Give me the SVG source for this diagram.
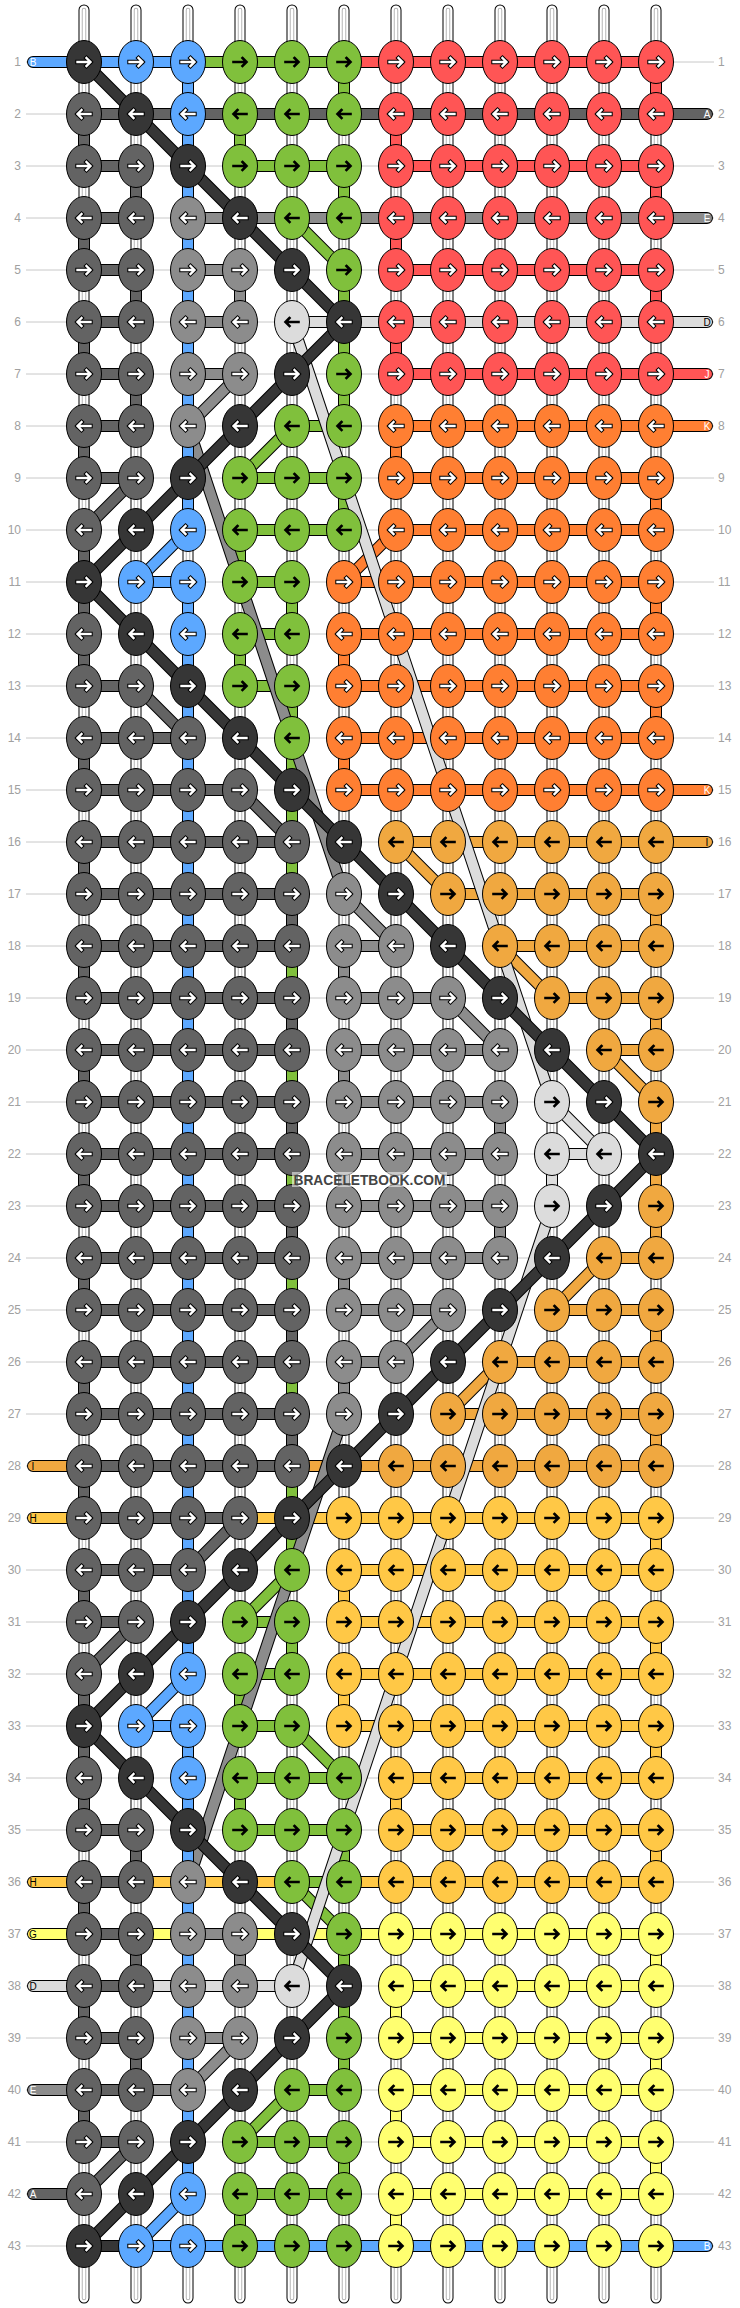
<svg xmlns="http://www.w3.org/2000/svg" xmlns:xlink="http://www.w3.org/1999/xlink" width="740" height="2308" viewBox="0 0 740 2308">
<style>
text{font-family:"Liberation Sans",Arial,sans-serif}
.n{font-size:12px;fill:#a0a0a0}
.nl{text-anchor:end}
.t{font-size:10px;text-anchor:middle}
.tw{fill:#fff}.tb{fill:#000}
.o{stroke:#000;stroke-width:12}
.i{stroke-width:10}
.K{fill:#363636}.A{fill:#636363}.E{fill:#8c8c8c}.D{fill:#dcdcdc}.B{fill:#5ca8ff}.F{fill:#80c03c}.J{fill:#ff5555}.O{fill:#ff7f32}.I{fill:#f0a840}.H{fill:#ffc846}.G{fill:#ffff70}
</style>
<defs>
<path id="a" d="M-6.5,0H6M2.5,-4L6.5,0L2.5,4" fill="none" stroke-linecap="square"/>
<g id="R"><ellipse rx="17.5" ry="21.5" stroke="#000"/><use href="#a" stroke="#000" stroke-width="4.4"/><use href="#a" stroke="#fff" stroke-width="2.4"/></g>
<g id="L"><ellipse rx="17.5" ry="21.5" stroke="#000"/><g transform="scale(-1,1)"><use href="#a" stroke="#000" stroke-width="4.4"/><use href="#a" stroke="#fff" stroke-width="2.4"/></g></g>
<g id="r"><ellipse rx="17.5" ry="21.5" stroke="#000"/><use href="#a" stroke="#000" stroke-width="2.6"/></g>
<g id="l"><ellipse rx="17.5" ry="21.5" stroke="#000"/><use href="#a" stroke="#000" stroke-width="2.6" transform="scale(-1,1)"/></g>
<path id="pW" d="M84,10V2298M136,10V2298M188,10V2298M240,10V2298M292,10V2298M344,10V2298M396,10V2298M448,10V2298M500,10V2298M552,10V2298M604,10V2298M656,10V2298"/>
<path id="pJ" d="M344,62H656V114H396V166H656V218H396V270H656V322H396V374H707"/>
<path id="pO" d="M707,426H396V478H656V530H396L344,582H656V634H344V686H656V738H344V790H707"/>
<path id="pI" d="M707,842H396L448,894H656V946H500L552,998H656V1050H604L656,1102V1258H604L552,1310H656V1362H500L448,1414H656V1466H33"/>
<path id="pH" d="M33,1518H656V1570H344V1622H656V1674H344V1726H656V1778H396V1830H656V1882H33"/>
<path id="pG" d="M33,1934H656V1986H396V2038H656V2090H396V2142H656V2194H396V2246H656"/>
<path id="pF" d="M188,62H344V114H240V166H344V218H292L344,270V426H292L240,478H344V530H240V582H292V634H240V686H292V1570L240,1622H292V1674H240V1726H292L344,1778H240V1830H344V1882H292L344,1934V2090H292L240,2142H344V2194H240V2246H344"/>
<path id="pE" d="M707,218H188V270H240V322H188V374H240L188,426L344,894L396,946H344V998H448L500,1050H344V1102H500V1154H344V1206H500V1258H344V1310H448L396,1362H344V1414L188,1882V1934H240V1986H188V2038H240L188,2090H33"/>
<path id="pD" d="M707,322H292L552,1102L604,1154H552V1206L292,1986H33"/>
<path id="pB" d="M33,62H188V530L136,582H188V1674L136,1726H188V2194L136,2246H707"/>
<path id="pA" d="M707,114H84V166H136V218H84V270H136V322H84V374H136V426H84V478H136L84,530V686H136L188,738H84V790H240L292,842H84V894H292V946H84V998H292V1050H84V1102H292V1154H84V1206H292V1258H84V1310H292V1362H84V1414H292V1466H84V1518H240L188,1570H84V1622H136L84,1674V1830H136V1882H84V1934H136V1986H84V2038H136V2090H84V2142H136L84,2194H33"/>
<path id="pK" d="M84,62L344,322L84,582L656,1154L84,1726L344,1986L84,2246H136"/>
</defs>
<rect width="740" height="2308" fill="#fff"/>
<g id="rowlines" stroke="#c8c8c8" stroke-width="1">
<path d="M26,62H714M26,114H714M26,166H714M26,218H714M26,270H714M26,322H714M26,374H714M26,426H714M26,478H714M26,530H714M26,582H714M26,634H714M26,686H714M26,738H714M26,790H714M26,842H714M26,894H714M26,946H714M26,998H714M26,1050H714M26,1102H714M26,1154H714M26,1206H714M26,1258H714M26,1310H714M26,1362H714M26,1414H714M26,1466H714M26,1518H714M26,1570H714M26,1622H714M26,1674H714M26,1726H714M26,1778H714M26,1830H714M26,1882H714M26,1934H714M26,1986H714M26,2038H714M26,2090H714M26,2142H714M26,2194H714M26,2246H714"/>
</g>
<g id="rownumbers" class="n">
<g class="nl"><text x="21" y="66">1</text><text x="21" y="118">2</text><text x="21" y="170">3</text><text x="21" y="222">4</text><text x="21" y="274">5</text><text x="21" y="326">6</text><text x="21" y="378">7</text><text x="21" y="430">8</text><text x="21" y="482">9</text><text x="21" y="534">10</text><text x="21" y="586">11</text><text x="21" y="638">12</text><text x="21" y="690">13</text><text x="21" y="742">14</text><text x="21" y="794">15</text><text x="21" y="846">16</text><text x="21" y="898">17</text><text x="21" y="950">18</text><text x="21" y="1002">19</text><text x="21" y="1054">20</text><text x="21" y="1106">21</text><text x="21" y="1158">22</text><text x="21" y="1210">23</text><text x="21" y="1262">24</text><text x="21" y="1314">25</text><text x="21" y="1366">26</text><text x="21" y="1418">27</text><text x="21" y="1470">28</text><text x="21" y="1522">29</text><text x="21" y="1574">30</text><text x="21" y="1626">31</text><text x="21" y="1678">32</text><text x="21" y="1730">33</text><text x="21" y="1782">34</text><text x="21" y="1834">35</text><text x="21" y="1886">36</text><text x="21" y="1938">37</text><text x="21" y="1990">38</text><text x="21" y="2042">39</text><text x="21" y="2094">40</text><text x="21" y="2146">41</text><text x="21" y="2198">42</text><text x="21" y="2250">43</text></g>
<g><text x="718" y="66">1</text><text x="718" y="118">2</text><text x="718" y="170">3</text><text x="718" y="222">4</text><text x="718" y="274">5</text><text x="718" y="326">6</text><text x="718" y="378">7</text><text x="718" y="430">8</text><text x="718" y="482">9</text><text x="718" y="534">10</text><text x="718" y="586">11</text><text x="718" y="638">12</text><text x="718" y="690">13</text><text x="718" y="742">14</text><text x="718" y="794">15</text><text x="718" y="846">16</text><text x="718" y="898">17</text><text x="718" y="950">18</text><text x="718" y="1002">19</text><text x="718" y="1054">20</text><text x="718" y="1106">21</text><text x="718" y="1158">22</text><text x="718" y="1210">23</text><text x="718" y="1262">24</text><text x="718" y="1314">25</text><text x="718" y="1366">26</text><text x="718" y="1418">27</text><text x="718" y="1470">28</text><text x="718" y="1522">29</text><text x="718" y="1574">30</text><text x="718" y="1626">31</text><text x="718" y="1678">32</text><text x="718" y="1730">33</text><text x="718" y="1782">34</text><text x="718" y="1834">35</text><text x="718" y="1886">36</text><text x="718" y="1938">37</text><text x="718" y="1990">38</text><text x="718" y="2042">39</text><text x="718" y="2094">40</text><text x="718" y="2146">41</text><text x="718" y="2198">42</text><text x="718" y="2250">43</text></g>
</g>
<g id="connectors" fill="none" stroke-linecap="round" stroke-linejoin="round">
<g id="warps"><use href="#pW" stroke="#000" stroke-width="11"/><use href="#pW" stroke="#fff" stroke-width="9"/><use href="#pW" stroke="#b4b4b4" stroke-width="4.5"/><use href="#pW" stroke="#fff" stroke-width="2.5"/></g>
<g id="sJ"><use href="#pJ" class="o"/><use href="#pJ" class="i" stroke="#ff5555"/></g>
<g id="sO"><use href="#pO" class="o"/><use href="#pO" class="i" stroke="#ff7f32"/></g>
<g id="sI"><use href="#pI" class="o"/><use href="#pI" class="i" stroke="#f0a840"/></g>
<g id="sH"><use href="#pH" class="o"/><use href="#pH" class="i" stroke="#ffc846"/></g>
<g id="sG"><use href="#pG" class="o"/><use href="#pG" class="i" stroke="#ffff70"/></g>
<g id="sF"><use href="#pF" class="o"/><use href="#pF" class="i" stroke="#80c03c"/></g>
<g id="sE"><use href="#pE" class="o"/><use href="#pE" class="i" stroke="#8c8c8c"/></g>
<g id="sD"><use href="#pD" class="o"/><use href="#pD" class="i" stroke="#dcdcdc"/></g>
<g id="sB"><use href="#pB" class="o"/><use href="#pB" class="i" stroke="#5ca8ff"/></g>
<g id="sA"><use href="#pA" class="o"/><use href="#pA" class="i" stroke="#636363"/></g>
<g id="sK"><use href="#pK" class="o"/><use href="#pK" class="i" stroke="#363636"/></g>
</g>
<g id="stringlabels" class="t">
<text class="tw" x="33" y="65.6">B</text><text class="tb" x="33" y="1469.6">I</text><text class="tb" x="33" y="1521.6">H</text><text class="tb" x="33" y="1885.6">H</text><text class="tb" x="33" y="1937.6">G</text><text class="tb" x="33" y="1989.6">D</text><text class="tw" x="33" y="2093.6">E</text><text class="tw" x="33" y="2197.6">A</text>
<text class="tw" x="707" y="117.6">A</text><text class="tw" x="707" y="221.6">E</text><text class="tb" x="707" y="325.6">D</text><text class="tw" x="707" y="377.6">J</text><text class="tw" x="707" y="429.6">K</text><text class="tw" x="707" y="793.6">K</text><text class="tb" x="707" y="845.6">I</text><text class="tw" x="707" y="2249.6">B</text>
</g>
<g id="knots">
<g id="row1" transform="translate(0,62)"><use id="k1-1" href="#R" class="K" x="84"/><use id="k1-2" href="#R" class="B" x="136"/><use id="k1-3" href="#R" class="B" x="188"/><use id="k1-4" href="#r" class="F" x="240"/><use id="k1-5" href="#r" class="F" x="292"/><use id="k1-6" href="#r" class="F" x="344"/><use id="k1-7" href="#R" class="J" x="396"/><use id="k1-8" href="#R" class="J" x="448"/><use id="k1-9" href="#R" class="J" x="500"/><use id="k1-10" href="#R" class="J" x="552"/><use id="k1-11" href="#R" class="J" x="604"/><use id="k1-12" href="#R" class="J" x="656"/></g>
<g id="row2" transform="translate(0,114)"><use id="k2-1" href="#L" class="A" x="84"/><use id="k2-2" href="#L" class="K" x="136"/><use id="k2-3" href="#L" class="B" x="188"/><use id="k2-4" href="#l" class="F" x="240"/><use id="k2-5" href="#l" class="F" x="292"/><use id="k2-6" href="#l" class="F" x="344"/><use id="k2-7" href="#L" class="J" x="396"/><use id="k2-8" href="#L" class="J" x="448"/><use id="k2-9" href="#L" class="J" x="500"/><use id="k2-10" href="#L" class="J" x="552"/><use id="k2-11" href="#L" class="J" x="604"/><use id="k2-12" href="#L" class="J" x="656"/></g>
<g id="row3" transform="translate(0,166)"><use id="k3-1" href="#R" class="A" x="84"/><use id="k3-2" href="#R" class="A" x="136"/><use id="k3-3" href="#R" class="K" x="188"/><use id="k3-4" href="#r" class="F" x="240"/><use id="k3-5" href="#r" class="F" x="292"/><use id="k3-6" href="#r" class="F" x="344"/><use id="k3-7" href="#R" class="J" x="396"/><use id="k3-8" href="#R" class="J" x="448"/><use id="k3-9" href="#R" class="J" x="500"/><use id="k3-10" href="#R" class="J" x="552"/><use id="k3-11" href="#R" class="J" x="604"/><use id="k3-12" href="#R" class="J" x="656"/></g>
<g id="row4" transform="translate(0,218)"><use id="k4-1" href="#L" class="A" x="84"/><use id="k4-2" href="#L" class="A" x="136"/><use id="k4-3" href="#L" class="E" x="188"/><use id="k4-4" href="#L" class="K" x="240"/><use id="k4-5" href="#l" class="F" x="292"/><use id="k4-6" href="#l" class="F" x="344"/><use id="k4-7" href="#L" class="J" x="396"/><use id="k4-8" href="#L" class="J" x="448"/><use id="k4-9" href="#L" class="J" x="500"/><use id="k4-10" href="#L" class="J" x="552"/><use id="k4-11" href="#L" class="J" x="604"/><use id="k4-12" href="#L" class="J" x="656"/></g>
<g id="row5" transform="translate(0,270)"><use id="k5-1" href="#R" class="A" x="84"/><use id="k5-2" href="#R" class="A" x="136"/><use id="k5-3" href="#R" class="E" x="188"/><use id="k5-4" href="#R" class="E" x="240"/><use id="k5-5" href="#R" class="K" x="292"/><use id="k5-6" href="#r" class="F" x="344"/><use id="k5-7" href="#R" class="J" x="396"/><use id="k5-8" href="#R" class="J" x="448"/><use id="k5-9" href="#R" class="J" x="500"/><use id="k5-10" href="#R" class="J" x="552"/><use id="k5-11" href="#R" class="J" x="604"/><use id="k5-12" href="#R" class="J" x="656"/></g>
<g id="row6" transform="translate(0,322)"><use id="k6-1" href="#L" class="A" x="84"/><use id="k6-2" href="#L" class="A" x="136"/><use id="k6-3" href="#L" class="E" x="188"/><use id="k6-4" href="#L" class="E" x="240"/><use id="k6-5" href="#l" class="D" x="292"/><use id="k6-6" href="#L" class="K" x="344"/><use id="k6-7" href="#L" class="J" x="396"/><use id="k6-8" href="#L" class="J" x="448"/><use id="k6-9" href="#L" class="J" x="500"/><use id="k6-10" href="#L" class="J" x="552"/><use id="k6-11" href="#L" class="J" x="604"/><use id="k6-12" href="#L" class="J" x="656"/></g>
<g id="row7" transform="translate(0,374)"><use id="k7-1" href="#R" class="A" x="84"/><use id="k7-2" href="#R" class="A" x="136"/><use id="k7-3" href="#R" class="E" x="188"/><use id="k7-4" href="#R" class="E" x="240"/><use id="k7-5" href="#R" class="K" x="292"/><use id="k7-6" href="#r" class="F" x="344"/><use id="k7-7" href="#R" class="J" x="396"/><use id="k7-8" href="#R" class="J" x="448"/><use id="k7-9" href="#R" class="J" x="500"/><use id="k7-10" href="#R" class="J" x="552"/><use id="k7-11" href="#R" class="J" x="604"/><use id="k7-12" href="#R" class="J" x="656"/></g>
<g id="row8" transform="translate(0,426)"><use id="k8-1" href="#L" class="A" x="84"/><use id="k8-2" href="#L" class="A" x="136"/><use id="k8-3" href="#L" class="E" x="188"/><use id="k8-4" href="#L" class="K" x="240"/><use id="k8-5" href="#l" class="F" x="292"/><use id="k8-6" href="#l" class="F" x="344"/><use id="k8-7" href="#L" class="O" x="396"/><use id="k8-8" href="#L" class="O" x="448"/><use id="k8-9" href="#L" class="O" x="500"/><use id="k8-10" href="#L" class="O" x="552"/><use id="k8-11" href="#L" class="O" x="604"/><use id="k8-12" href="#L" class="O" x="656"/></g>
<g id="row9" transform="translate(0,478)"><use id="k9-1" href="#R" class="A" x="84"/><use id="k9-2" href="#R" class="A" x="136"/><use id="k9-3" href="#R" class="K" x="188"/><use id="k9-4" href="#r" class="F" x="240"/><use id="k9-5" href="#r" class="F" x="292"/><use id="k9-6" href="#r" class="F" x="344"/><use id="k9-7" href="#R" class="O" x="396"/><use id="k9-8" href="#R" class="O" x="448"/><use id="k9-9" href="#R" class="O" x="500"/><use id="k9-10" href="#R" class="O" x="552"/><use id="k9-11" href="#R" class="O" x="604"/><use id="k9-12" href="#R" class="O" x="656"/></g>
<g id="row10" transform="translate(0,530)"><use id="k10-1" href="#L" class="A" x="84"/><use id="k10-2" href="#L" class="K" x="136"/><use id="k10-3" href="#L" class="B" x="188"/><use id="k10-4" href="#l" class="F" x="240"/><use id="k10-5" href="#l" class="F" x="292"/><use id="k10-6" href="#l" class="F" x="344"/><use id="k10-7" href="#L" class="O" x="396"/><use id="k10-8" href="#L" class="O" x="448"/><use id="k10-9" href="#L" class="O" x="500"/><use id="k10-10" href="#L" class="O" x="552"/><use id="k10-11" href="#L" class="O" x="604"/><use id="k10-12" href="#L" class="O" x="656"/></g>
<g id="row11" transform="translate(0,582)"><use id="k11-1" href="#R" class="K" x="84"/><use id="k11-2" href="#R" class="B" x="136"/><use id="k11-3" href="#R" class="B" x="188"/><use id="k11-4" href="#r" class="F" x="240"/><use id="k11-5" href="#r" class="F" x="292"/><use id="k11-6" href="#R" class="O" x="344"/><use id="k11-7" href="#R" class="O" x="396"/><use id="k11-8" href="#R" class="O" x="448"/><use id="k11-9" href="#R" class="O" x="500"/><use id="k11-10" href="#R" class="O" x="552"/><use id="k11-11" href="#R" class="O" x="604"/><use id="k11-12" href="#R" class="O" x="656"/></g>
<g id="row12" transform="translate(0,634)"><use id="k12-1" href="#L" class="A" x="84"/><use id="k12-2" href="#L" class="K" x="136"/><use id="k12-3" href="#L" class="B" x="188"/><use id="k12-4" href="#l" class="F" x="240"/><use id="k12-5" href="#l" class="F" x="292"/><use id="k12-6" href="#L" class="O" x="344"/><use id="k12-7" href="#L" class="O" x="396"/><use id="k12-8" href="#L" class="O" x="448"/><use id="k12-9" href="#L" class="O" x="500"/><use id="k12-10" href="#L" class="O" x="552"/><use id="k12-11" href="#L" class="O" x="604"/><use id="k12-12" href="#L" class="O" x="656"/></g>
<g id="row13" transform="translate(0,686)"><use id="k13-1" href="#R" class="A" x="84"/><use id="k13-2" href="#R" class="A" x="136"/><use id="k13-3" href="#R" class="K" x="188"/><use id="k13-4" href="#r" class="F" x="240"/><use id="k13-5" href="#r" class="F" x="292"/><use id="k13-6" href="#R" class="O" x="344"/><use id="k13-7" href="#R" class="O" x="396"/><use id="k13-8" href="#R" class="O" x="448"/><use id="k13-9" href="#R" class="O" x="500"/><use id="k13-10" href="#R" class="O" x="552"/><use id="k13-11" href="#R" class="O" x="604"/><use id="k13-12" href="#R" class="O" x="656"/></g>
<g id="row14" transform="translate(0,738)"><use id="k14-1" href="#L" class="A" x="84"/><use id="k14-2" href="#L" class="A" x="136"/><use id="k14-3" href="#L" class="A" x="188"/><use id="k14-4" href="#L" class="K" x="240"/><use id="k14-5" href="#l" class="F" x="292"/><use id="k14-6" href="#L" class="O" x="344"/><use id="k14-7" href="#L" class="O" x="396"/><use id="k14-8" href="#L" class="O" x="448"/><use id="k14-9" href="#L" class="O" x="500"/><use id="k14-10" href="#L" class="O" x="552"/><use id="k14-11" href="#L" class="O" x="604"/><use id="k14-12" href="#L" class="O" x="656"/></g>
<g id="row15" transform="translate(0,790)"><use id="k15-1" href="#R" class="A" x="84"/><use id="k15-2" href="#R" class="A" x="136"/><use id="k15-3" href="#R" class="A" x="188"/><use id="k15-4" href="#R" class="A" x="240"/><use id="k15-5" href="#R" class="K" x="292"/><use id="k15-6" href="#R" class="O" x="344"/><use id="k15-7" href="#R" class="O" x="396"/><use id="k15-8" href="#R" class="O" x="448"/><use id="k15-9" href="#R" class="O" x="500"/><use id="k15-10" href="#R" class="O" x="552"/><use id="k15-11" href="#R" class="O" x="604"/><use id="k15-12" href="#R" class="O" x="656"/></g>
<g id="row16" transform="translate(0,842)"><use id="k16-1" href="#L" class="A" x="84"/><use id="k16-2" href="#L" class="A" x="136"/><use id="k16-3" href="#L" class="A" x="188"/><use id="k16-4" href="#L" class="A" x="240"/><use id="k16-5" href="#L" class="A" x="292"/><use id="k16-6" href="#L" class="K" x="344"/><use id="k16-7" href="#l" class="I" x="396"/><use id="k16-8" href="#l" class="I" x="448"/><use id="k16-9" href="#l" class="I" x="500"/><use id="k16-10" href="#l" class="I" x="552"/><use id="k16-11" href="#l" class="I" x="604"/><use id="k16-12" href="#l" class="I" x="656"/></g>
<g id="row17" transform="translate(0,894)"><use id="k17-1" href="#R" class="A" x="84"/><use id="k17-2" href="#R" class="A" x="136"/><use id="k17-3" href="#R" class="A" x="188"/><use id="k17-4" href="#R" class="A" x="240"/><use id="k17-5" href="#R" class="A" x="292"/><use id="k17-6" href="#R" class="E" x="344"/><use id="k17-7" href="#R" class="K" x="396"/><use id="k17-8" href="#r" class="I" x="448"/><use id="k17-9" href="#r" class="I" x="500"/><use id="k17-10" href="#r" class="I" x="552"/><use id="k17-11" href="#r" class="I" x="604"/><use id="k17-12" href="#r" class="I" x="656"/></g>
<g id="row18" transform="translate(0,946)"><use id="k18-1" href="#L" class="A" x="84"/><use id="k18-2" href="#L" class="A" x="136"/><use id="k18-3" href="#L" class="A" x="188"/><use id="k18-4" href="#L" class="A" x="240"/><use id="k18-5" href="#L" class="A" x="292"/><use id="k18-6" href="#L" class="E" x="344"/><use id="k18-7" href="#L" class="E" x="396"/><use id="k18-8" href="#L" class="K" x="448"/><use id="k18-9" href="#l" class="I" x="500"/><use id="k18-10" href="#l" class="I" x="552"/><use id="k18-11" href="#l" class="I" x="604"/><use id="k18-12" href="#l" class="I" x="656"/></g>
<g id="row19" transform="translate(0,998)"><use id="k19-1" href="#R" class="A" x="84"/><use id="k19-2" href="#R" class="A" x="136"/><use id="k19-3" href="#R" class="A" x="188"/><use id="k19-4" href="#R" class="A" x="240"/><use id="k19-5" href="#R" class="A" x="292"/><use id="k19-6" href="#R" class="E" x="344"/><use id="k19-7" href="#R" class="E" x="396"/><use id="k19-8" href="#R" class="E" x="448"/><use id="k19-9" href="#R" class="K" x="500"/><use id="k19-10" href="#r" class="I" x="552"/><use id="k19-11" href="#r" class="I" x="604"/><use id="k19-12" href="#r" class="I" x="656"/></g>
<g id="row20" transform="translate(0,1050)"><use id="k20-1" href="#L" class="A" x="84"/><use id="k20-2" href="#L" class="A" x="136"/><use id="k20-3" href="#L" class="A" x="188"/><use id="k20-4" href="#L" class="A" x="240"/><use id="k20-5" href="#L" class="A" x="292"/><use id="k20-6" href="#L" class="E" x="344"/><use id="k20-7" href="#L" class="E" x="396"/><use id="k20-8" href="#L" class="E" x="448"/><use id="k20-9" href="#L" class="E" x="500"/><use id="k20-10" href="#L" class="K" x="552"/><use id="k20-11" href="#l" class="I" x="604"/><use id="k20-12" href="#l" class="I" x="656"/></g>
<g id="row21" transform="translate(0,1102)"><use id="k21-1" href="#R" class="A" x="84"/><use id="k21-2" href="#R" class="A" x="136"/><use id="k21-3" href="#R" class="A" x="188"/><use id="k21-4" href="#R" class="A" x="240"/><use id="k21-5" href="#R" class="A" x="292"/><use id="k21-6" href="#R" class="E" x="344"/><use id="k21-7" href="#R" class="E" x="396"/><use id="k21-8" href="#R" class="E" x="448"/><use id="k21-9" href="#R" class="E" x="500"/><use id="k21-10" href="#r" class="D" x="552"/><use id="k21-11" href="#R" class="K" x="604"/><use id="k21-12" href="#r" class="I" x="656"/></g>
<g id="row22" transform="translate(0,1154)"><use id="k22-1" href="#L" class="A" x="84"/><use id="k22-2" href="#L" class="A" x="136"/><use id="k22-3" href="#L" class="A" x="188"/><use id="k22-4" href="#L" class="A" x="240"/><use id="k22-5" href="#L" class="A" x="292"/><use id="k22-6" href="#L" class="E" x="344"/><use id="k22-7" href="#L" class="E" x="396"/><use id="k22-8" href="#L" class="E" x="448"/><use id="k22-9" href="#L" class="E" x="500"/><use id="k22-10" href="#l" class="D" x="552"/><use id="k22-11" href="#l" class="D" x="604"/><use id="k22-12" href="#L" class="K" x="656"/></g>
<g id="row23" transform="translate(0,1206)"><use id="k23-1" href="#R" class="A" x="84"/><use id="k23-2" href="#R" class="A" x="136"/><use id="k23-3" href="#R" class="A" x="188"/><use id="k23-4" href="#R" class="A" x="240"/><use id="k23-5" href="#R" class="A" x="292"/><use id="k23-6" href="#R" class="E" x="344"/><use id="k23-7" href="#R" class="E" x="396"/><use id="k23-8" href="#R" class="E" x="448"/><use id="k23-9" href="#R" class="E" x="500"/><use id="k23-10" href="#r" class="D" x="552"/><use id="k23-11" href="#R" class="K" x="604"/><use id="k23-12" href="#r" class="I" x="656"/></g>
<g id="row24" transform="translate(0,1258)"><use id="k24-1" href="#L" class="A" x="84"/><use id="k24-2" href="#L" class="A" x="136"/><use id="k24-3" href="#L" class="A" x="188"/><use id="k24-4" href="#L" class="A" x="240"/><use id="k24-5" href="#L" class="A" x="292"/><use id="k24-6" href="#L" class="E" x="344"/><use id="k24-7" href="#L" class="E" x="396"/><use id="k24-8" href="#L" class="E" x="448"/><use id="k24-9" href="#L" class="E" x="500"/><use id="k24-10" href="#L" class="K" x="552"/><use id="k24-11" href="#l" class="I" x="604"/><use id="k24-12" href="#l" class="I" x="656"/></g>
<g id="row25" transform="translate(0,1310)"><use id="k25-1" href="#R" class="A" x="84"/><use id="k25-2" href="#R" class="A" x="136"/><use id="k25-3" href="#R" class="A" x="188"/><use id="k25-4" href="#R" class="A" x="240"/><use id="k25-5" href="#R" class="A" x="292"/><use id="k25-6" href="#R" class="E" x="344"/><use id="k25-7" href="#R" class="E" x="396"/><use id="k25-8" href="#R" class="E" x="448"/><use id="k25-9" href="#R" class="K" x="500"/><use id="k25-10" href="#r" class="I" x="552"/><use id="k25-11" href="#r" class="I" x="604"/><use id="k25-12" href="#r" class="I" x="656"/></g>
<g id="row26" transform="translate(0,1362)"><use id="k26-1" href="#L" class="A" x="84"/><use id="k26-2" href="#L" class="A" x="136"/><use id="k26-3" href="#L" class="A" x="188"/><use id="k26-4" href="#L" class="A" x="240"/><use id="k26-5" href="#L" class="A" x="292"/><use id="k26-6" href="#L" class="E" x="344"/><use id="k26-7" href="#L" class="E" x="396"/><use id="k26-8" href="#L" class="K" x="448"/><use id="k26-9" href="#l" class="I" x="500"/><use id="k26-10" href="#l" class="I" x="552"/><use id="k26-11" href="#l" class="I" x="604"/><use id="k26-12" href="#l" class="I" x="656"/></g>
<g id="row27" transform="translate(0,1414)"><use id="k27-1" href="#R" class="A" x="84"/><use id="k27-2" href="#R" class="A" x="136"/><use id="k27-3" href="#R" class="A" x="188"/><use id="k27-4" href="#R" class="A" x="240"/><use id="k27-5" href="#R" class="A" x="292"/><use id="k27-6" href="#R" class="E" x="344"/><use id="k27-7" href="#R" class="K" x="396"/><use id="k27-8" href="#r" class="I" x="448"/><use id="k27-9" href="#r" class="I" x="500"/><use id="k27-10" href="#r" class="I" x="552"/><use id="k27-11" href="#r" class="I" x="604"/><use id="k27-12" href="#r" class="I" x="656"/></g>
<g id="row28" transform="translate(0,1466)"><use id="k28-1" href="#L" class="A" x="84"/><use id="k28-2" href="#L" class="A" x="136"/><use id="k28-3" href="#L" class="A" x="188"/><use id="k28-4" href="#L" class="A" x="240"/><use id="k28-5" href="#L" class="A" x="292"/><use id="k28-6" href="#L" class="K" x="344"/><use id="k28-7" href="#l" class="I" x="396"/><use id="k28-8" href="#l" class="I" x="448"/><use id="k28-9" href="#l" class="I" x="500"/><use id="k28-10" href="#l" class="I" x="552"/><use id="k28-11" href="#l" class="I" x="604"/><use id="k28-12" href="#l" class="I" x="656"/></g>
<g id="row29" transform="translate(0,1518)"><use id="k29-1" href="#R" class="A" x="84"/><use id="k29-2" href="#R" class="A" x="136"/><use id="k29-3" href="#R" class="A" x="188"/><use id="k29-4" href="#R" class="A" x="240"/><use id="k29-5" href="#R" class="K" x="292"/><use id="k29-6" href="#r" class="H" x="344"/><use id="k29-7" href="#r" class="H" x="396"/><use id="k29-8" href="#r" class="H" x="448"/><use id="k29-9" href="#r" class="H" x="500"/><use id="k29-10" href="#r" class="H" x="552"/><use id="k29-11" href="#r" class="H" x="604"/><use id="k29-12" href="#r" class="H" x="656"/></g>
<g id="row30" transform="translate(0,1570)"><use id="k30-1" href="#L" class="A" x="84"/><use id="k30-2" href="#L" class="A" x="136"/><use id="k30-3" href="#L" class="A" x="188"/><use id="k30-4" href="#L" class="K" x="240"/><use id="k30-5" href="#l" class="F" x="292"/><use id="k30-6" href="#l" class="H" x="344"/><use id="k30-7" href="#l" class="H" x="396"/><use id="k30-8" href="#l" class="H" x="448"/><use id="k30-9" href="#l" class="H" x="500"/><use id="k30-10" href="#l" class="H" x="552"/><use id="k30-11" href="#l" class="H" x="604"/><use id="k30-12" href="#l" class="H" x="656"/></g>
<g id="row31" transform="translate(0,1622)"><use id="k31-1" href="#R" class="A" x="84"/><use id="k31-2" href="#R" class="A" x="136"/><use id="k31-3" href="#R" class="K" x="188"/><use id="k31-4" href="#r" class="F" x="240"/><use id="k31-5" href="#r" class="F" x="292"/><use id="k31-6" href="#r" class="H" x="344"/><use id="k31-7" href="#r" class="H" x="396"/><use id="k31-8" href="#r" class="H" x="448"/><use id="k31-9" href="#r" class="H" x="500"/><use id="k31-10" href="#r" class="H" x="552"/><use id="k31-11" href="#r" class="H" x="604"/><use id="k31-12" href="#r" class="H" x="656"/></g>
<g id="row32" transform="translate(0,1674)"><use id="k32-1" href="#L" class="A" x="84"/><use id="k32-2" href="#L" class="K" x="136"/><use id="k32-3" href="#L" class="B" x="188"/><use id="k32-4" href="#l" class="F" x="240"/><use id="k32-5" href="#l" class="F" x="292"/><use id="k32-6" href="#l" class="H" x="344"/><use id="k32-7" href="#l" class="H" x="396"/><use id="k32-8" href="#l" class="H" x="448"/><use id="k32-9" href="#l" class="H" x="500"/><use id="k32-10" href="#l" class="H" x="552"/><use id="k32-11" href="#l" class="H" x="604"/><use id="k32-12" href="#l" class="H" x="656"/></g>
<g id="row33" transform="translate(0,1726)"><use id="k33-1" href="#R" class="K" x="84"/><use id="k33-2" href="#R" class="B" x="136"/><use id="k33-3" href="#R" class="B" x="188"/><use id="k33-4" href="#r" class="F" x="240"/><use id="k33-5" href="#r" class="F" x="292"/><use id="k33-6" href="#r" class="H" x="344"/><use id="k33-7" href="#r" class="H" x="396"/><use id="k33-8" href="#r" class="H" x="448"/><use id="k33-9" href="#r" class="H" x="500"/><use id="k33-10" href="#r" class="H" x="552"/><use id="k33-11" href="#r" class="H" x="604"/><use id="k33-12" href="#r" class="H" x="656"/></g>
<g id="row34" transform="translate(0,1778)"><use id="k34-1" href="#L" class="A" x="84"/><use id="k34-2" href="#L" class="K" x="136"/><use id="k34-3" href="#L" class="B" x="188"/><use id="k34-4" href="#l" class="F" x="240"/><use id="k34-5" href="#l" class="F" x="292"/><use id="k34-6" href="#l" class="F" x="344"/><use id="k34-7" href="#l" class="H" x="396"/><use id="k34-8" href="#l" class="H" x="448"/><use id="k34-9" href="#l" class="H" x="500"/><use id="k34-10" href="#l" class="H" x="552"/><use id="k34-11" href="#l" class="H" x="604"/><use id="k34-12" href="#l" class="H" x="656"/></g>
<g id="row35" transform="translate(0,1830)"><use id="k35-1" href="#R" class="A" x="84"/><use id="k35-2" href="#R" class="A" x="136"/><use id="k35-3" href="#R" class="K" x="188"/><use id="k35-4" href="#r" class="F" x="240"/><use id="k35-5" href="#r" class="F" x="292"/><use id="k35-6" href="#r" class="F" x="344"/><use id="k35-7" href="#r" class="H" x="396"/><use id="k35-8" href="#r" class="H" x="448"/><use id="k35-9" href="#r" class="H" x="500"/><use id="k35-10" href="#r" class="H" x="552"/><use id="k35-11" href="#r" class="H" x="604"/><use id="k35-12" href="#r" class="H" x="656"/></g>
<g id="row36" transform="translate(0,1882)"><use id="k36-1" href="#L" class="A" x="84"/><use id="k36-2" href="#L" class="A" x="136"/><use id="k36-3" href="#L" class="E" x="188"/><use id="k36-4" href="#L" class="K" x="240"/><use id="k36-5" href="#l" class="F" x="292"/><use id="k36-6" href="#l" class="F" x="344"/><use id="k36-7" href="#l" class="H" x="396"/><use id="k36-8" href="#l" class="H" x="448"/><use id="k36-9" href="#l" class="H" x="500"/><use id="k36-10" href="#l" class="H" x="552"/><use id="k36-11" href="#l" class="H" x="604"/><use id="k36-12" href="#l" class="H" x="656"/></g>
<g id="row37" transform="translate(0,1934)"><use id="k37-1" href="#R" class="A" x="84"/><use id="k37-2" href="#R" class="A" x="136"/><use id="k37-3" href="#R" class="E" x="188"/><use id="k37-4" href="#R" class="E" x="240"/><use id="k37-5" href="#R" class="K" x="292"/><use id="k37-6" href="#r" class="F" x="344"/><use id="k37-7" href="#r" class="G" x="396"/><use id="k37-8" href="#r" class="G" x="448"/><use id="k37-9" href="#r" class="G" x="500"/><use id="k37-10" href="#r" class="G" x="552"/><use id="k37-11" href="#r" class="G" x="604"/><use id="k37-12" href="#r" class="G" x="656"/></g>
<g id="row38" transform="translate(0,1986)"><use id="k38-1" href="#L" class="A" x="84"/><use id="k38-2" href="#L" class="A" x="136"/><use id="k38-3" href="#L" class="E" x="188"/><use id="k38-4" href="#L" class="E" x="240"/><use id="k38-5" href="#l" class="D" x="292"/><use id="k38-6" href="#L" class="K" x="344"/><use id="k38-7" href="#l" class="G" x="396"/><use id="k38-8" href="#l" class="G" x="448"/><use id="k38-9" href="#l" class="G" x="500"/><use id="k38-10" href="#l" class="G" x="552"/><use id="k38-11" href="#l" class="G" x="604"/><use id="k38-12" href="#l" class="G" x="656"/></g>
<g id="row39" transform="translate(0,2038)"><use id="k39-1" href="#R" class="A" x="84"/><use id="k39-2" href="#R" class="A" x="136"/><use id="k39-3" href="#R" class="E" x="188"/><use id="k39-4" href="#R" class="E" x="240"/><use id="k39-5" href="#R" class="K" x="292"/><use id="k39-6" href="#r" class="F" x="344"/><use id="k39-7" href="#r" class="G" x="396"/><use id="k39-8" href="#r" class="G" x="448"/><use id="k39-9" href="#r" class="G" x="500"/><use id="k39-10" href="#r" class="G" x="552"/><use id="k39-11" href="#r" class="G" x="604"/><use id="k39-12" href="#r" class="G" x="656"/></g>
<g id="row40" transform="translate(0,2090)"><use id="k40-1" href="#L" class="A" x="84"/><use id="k40-2" href="#L" class="A" x="136"/><use id="k40-3" href="#L" class="E" x="188"/><use id="k40-4" href="#L" class="K" x="240"/><use id="k40-5" href="#l" class="F" x="292"/><use id="k40-6" href="#l" class="F" x="344"/><use id="k40-7" href="#l" class="G" x="396"/><use id="k40-8" href="#l" class="G" x="448"/><use id="k40-9" href="#l" class="G" x="500"/><use id="k40-10" href="#l" class="G" x="552"/><use id="k40-11" href="#l" class="G" x="604"/><use id="k40-12" href="#l" class="G" x="656"/></g>
<g id="row41" transform="translate(0,2142)"><use id="k41-1" href="#R" class="A" x="84"/><use id="k41-2" href="#R" class="A" x="136"/><use id="k41-3" href="#R" class="K" x="188"/><use id="k41-4" href="#r" class="F" x="240"/><use id="k41-5" href="#r" class="F" x="292"/><use id="k41-6" href="#r" class="F" x="344"/><use id="k41-7" href="#r" class="G" x="396"/><use id="k41-8" href="#r" class="G" x="448"/><use id="k41-9" href="#r" class="G" x="500"/><use id="k41-10" href="#r" class="G" x="552"/><use id="k41-11" href="#r" class="G" x="604"/><use id="k41-12" href="#r" class="G" x="656"/></g>
<g id="row42" transform="translate(0,2194)"><use id="k42-1" href="#L" class="A" x="84"/><use id="k42-2" href="#L" class="K" x="136"/><use id="k42-3" href="#L" class="B" x="188"/><use id="k42-4" href="#l" class="F" x="240"/><use id="k42-5" href="#l" class="F" x="292"/><use id="k42-6" href="#l" class="F" x="344"/><use id="k42-7" href="#l" class="G" x="396"/><use id="k42-8" href="#l" class="G" x="448"/><use id="k42-9" href="#l" class="G" x="500"/><use id="k42-10" href="#l" class="G" x="552"/><use id="k42-11" href="#l" class="G" x="604"/><use id="k42-12" href="#l" class="G" x="656"/></g>
<g id="row43" transform="translate(0,2246)"><use id="k43-1" href="#R" class="K" x="84"/><use id="k43-2" href="#R" class="B" x="136"/><use id="k43-3" href="#R" class="B" x="188"/><use id="k43-4" href="#r" class="F" x="240"/><use id="k43-5" href="#r" class="F" x="292"/><use id="k43-6" href="#r" class="F" x="344"/><use id="k43-7" href="#r" class="G" x="396"/><use id="k43-8" href="#r" class="G" x="448"/><use id="k43-9" href="#r" class="G" x="500"/><use id="k43-10" href="#r" class="G" x="552"/><use id="k43-11" href="#r" class="G" x="604"/><use id="k43-12" href="#r" class="G" x="656"/></g>
</g>
<g id="watermark"><rect x="292" y="1172" width="155" height="15" fill="#fff" fill-opacity="0.55"/><text x="369.5" y="1184.5" text-anchor="middle" font-size="14" font-weight="bold" fill="#444" textLength="152" lengthAdjust="spacingAndGlyphs">BRACELETBOOK.COM</text></g>
</svg>
